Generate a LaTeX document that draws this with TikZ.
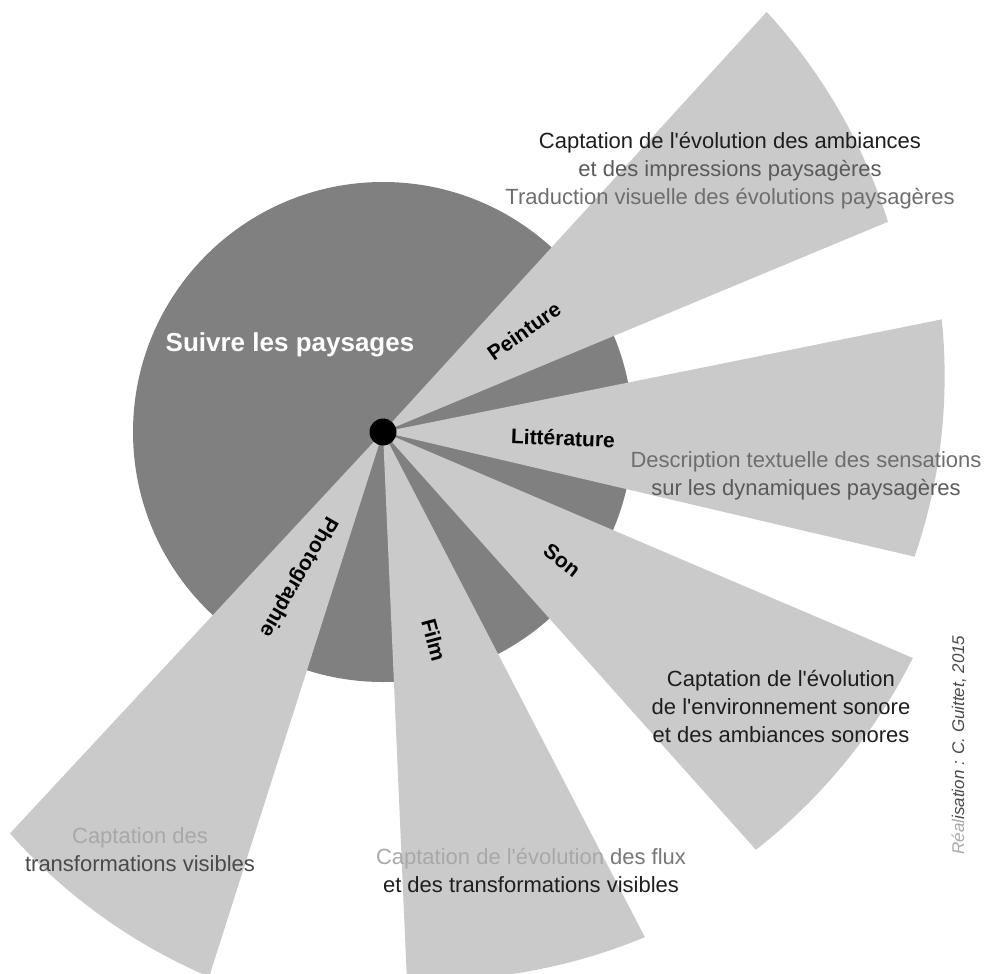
\documentclass[tikz,border=0pt]{standalone}
\usepackage{fontspec}
\setmainfont{Liberation Sans}[Ligatures=TeXOff]
\definecolor{discgray}{HTML}{808080}
\definecolor{fangray}{HTML}{CACACA}
\definecolor{txtdark}{HTML}{1E1E1E}
\definecolor{ghostA}{HTML}{5A5A5A}
\definecolor{ghostB}{HTML}{6E6E6E}
\definecolor{ghostC}{HTML}{A8A8A8}
\definecolor{ghostD}{HTML}{4A4A4A}
\definecolor{ghostE}{HTML}{777777}
\tikzset{
  fan/.style={fill=fangray, draw=none},
  disc/.style={fill=discgray, draw=none},
  lab/.style={font=\bfseries\fontsize{21}{25}\selectfont, text=black, inner sep=0pt},
  desc/.style={font=\fontsize{22}{28}\selectfont, align=center, inner sep=0pt, text=txtdark},
  credit/.style={font=\itshape\fontsize{17}{20}\selectfont, inner sep=0pt, text=ghostD},
}
% #1,#2 start/end angle, #3,#4 radius at start/end
\newcommand\fanwedge[4]{%
  \fill[fan] (c) -- plot[domain=#1:#2, samples=60, variable=\t]
    ({383+(#3+(#4-#3)*(\t-(#1))/((#2)-(#1)))*cos(\t)},
     {432-(#3+(#4-#3)*(\t-(#1))/((#2)-(#1)))*sin(\t)}) -- cycle;}
\begin{document}
\begin{tikzpicture}[x=1pt,y=-1pt]
\useasboundingbox (0,0) rectangle (991,974);
\clip (0,0) rectangle (991,974);
\coordinate (c) at (383,432);
% central disc
\fill[disc] (c) circle[radius=250];
% fans
\fanwedge{22.6}{47.6}{547}{569}     % Peinture
\fanwedge{-13.2}{11.4}{546}{570}    % Litterature
\fanwedge{-48.25}{-23.1}{560}{576}  % Son
\fanwedge{-87.5}{-62.6}{548}{569}   % Film
\fanwedge{-132.9}{-107.7}{548}{572} % Photographie
% centre dot
\node[circle, fill=black, minimum size=27, inner sep=0pt] (dot) at (c) {};
% title
\node[font=\bfseries\fontsize{26}{30}\selectfont, text=white, inner sep=0pt] (title) at (290,345) {Suivre les paysages};
% fan labels
\node[lab, rotate=35] (peinture) at (524,331) {Peinture};
\node[lab, rotate=-2] (litt) at (563,438) {Littérature};
\node[lab, rotate=-38] (son) at (562,560) {Son};
\node[lab, rotate=-75] (film) at (434,640) {Film};
\node[lab, rotate=-120] (photo) at (298,577) {Photographie};
% descriptions
\node[desc] (peintxt) at (730,171) {Captation de l'évolution des ambiances\\
  \textcolor{ghostA}{et des impressions paysagères}\\
  \textcolor{ghostB}{Traduction visuelle des évolutions paysagères}};
\node[desc] (litttxt) at (806,476) {\textcolor{ghostB}{Description textuelle des sensations}\\
  \textcolor{ghostA}{sur les dynamiques paysagères}};
\node[desc] (sontxt) at (781,707) {Captation de l'évolution\\
  de l'environnement sonore\\ et des ambiances sonores};
\node[desc] (phototxt) at (140,850) {\textcolor{ghostC}{Captation des}\\
  \textcolor{ghostD}{transformations visibles}};
\node[desc] (filmtxt) at (531,870) {\textcolor{ghostC}{Captation de l'évolution}\ \textcolor{ghostE}{des flux}\\
  et des transformations visibles};
% credit
\node[credit, rotate=90] (cred) at (959,745) {\textcolor{ghostC}{Réal}isation : C. Guittet, 2015};
\end{tikzpicture}
\end{document}
